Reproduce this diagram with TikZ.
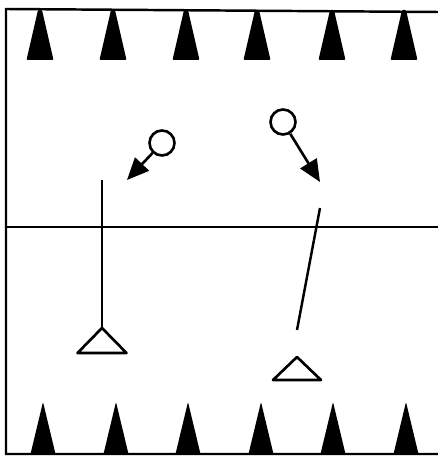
\documentclass[tikz,border=0pt]{standalone}
\usetikzlibrary{arrows.meta}
\tikzset{
  player/.style={draw, circle, line width=1.5pt, minimum size=0.5cm, inner sep=0pt},
  run/.style={draw, line width=1.5pt, -{Triangle[length=4.4mm,width=3.8mm]}},
  pass/.style={draw, line width=1.4pt},
  cone/.style={fill=black, rounded corners=0.6pt},
}
\begin{document}
\begin{tikzpicture}
\useasboundingbox (0,0) rectangle (8.76,9.12);
% field
\path[draw,line width=1.4pt] (8.76,8.88) -- (0.12,8.94) -- (0.12,0.04) -- (8.76,0.04);
\path[draw,line width=1.3pt] (0.12,4.58) -- (8.76,4.58);

% cones
\foreach \x in {0.80,2.26,3.72,5.14,6.64,8.08}
  \fill[cone] (\x-0.04,8.92) -- (\x+0.04,8.92) -- (\x+0.27,7.92) -- (\x-0.27,7.92) -- cycle;
\foreach \x in {0.86,2.32,3.76,5.22,6.66,8.12}
  \fill[cone] (\x,1.08) -- (\x+0.25,0.04) -- (\x-0.25,0.04) -- cycle;

% players
\node[player] (p1) at (3.24,6.26) {};
\node[player] (p2) at (5.66,6.68) {};
\coordinate (r1) at (2.54,5.52);
\coordinate (r2) at (6.40,5.48);
\path[run] (p1) -- (r1);
\path[run] (p2) -- (r2);

% targets
\coordinate (s1) at (2.04,5.52);
\coordinate (t1) at (2.04,2.56);
\coordinate (s2) at (6.40,4.96);
\coordinate (t2) at (5.94,2.52);
\coordinate (g1) at (2.04,2.56);
\coordinate (g2) at (5.94,1.98);
\path[pass] (s1) -- (t1);
\path[pass] (s2) -- (t2);
\path[draw,line width=1.5pt,line join=round] (g1) -- ++(0.49,-0.5) -- ++(-0.98,0) -- cycle;
\path[draw,line width=1.5pt,line join=round] (g2) -- ++(0.48,-0.46) -- ++(-0.96,0) -- cycle;
\end{tikzpicture}
\end{document}
